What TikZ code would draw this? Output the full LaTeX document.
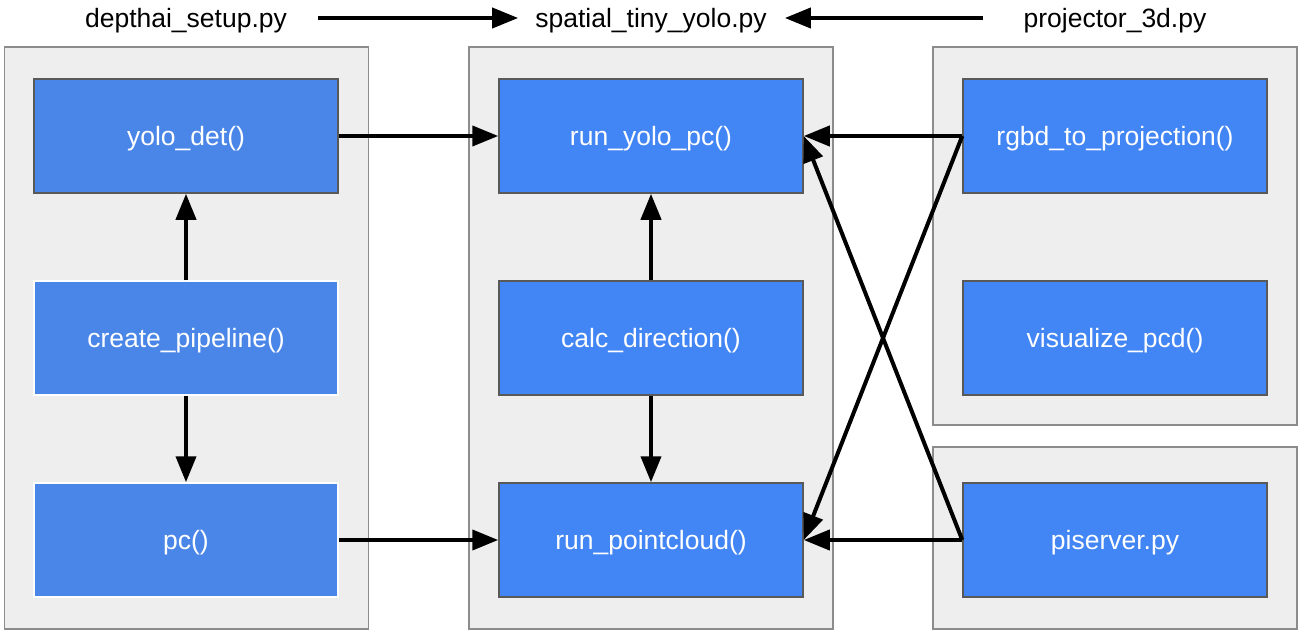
\documentclass[tikz,border=0pt]{standalone}
\usepackage{fontspec}
\setmainfont{Liberation Sans}
\usetikzlibrary{arrows.meta}
\definecolor{panelgray}{HTML}{EEEEEE}
\definecolor{panelline}{HTML}{8C8C8C}
\definecolor{setupblue}{HTML}{4A86E8}
\definecolor{funcblue}{HTML}{4285F4}
\definecolor{funcline}{HTML}{595959}

\begin{document}
\begin{tikzpicture}[x=1pt,y=-1pt,
        panel/.style={draw=panelline,fill=panelgray,line width=1.5pt,minimum width=364pt,inner sep=0pt},
        func/.style={draw=funcline,fill=funcblue,line width=1.5pt,minimum width=304pt,minimum height=114pt,
            inner sep=0pt,text depth=0pt,text=white,font=\fontsize{26.5}{30}\selectfont},
        setupfunc/.style={func,fill=setupblue,draw=white},
        title/.style={inner sep=0pt,text depth=0pt,font=\fontsize{26.5}{30}\selectfont},
        link/.style={-{Triangle[length=26pt,width=20pt]},line width=4pt}]
    \useasboundingbox (0,0) rectangle (1300,631);

    % files
    \node[title] (setup) at (186,18) {depthai\_setup.py};
    \node[title] (tiny) at (651,18) {spatial\_tiny\_yolo.py};
    \node[title] (proj) at (1115,18) {projector\_3d.py};

    % panels
    \node[panel,minimum height=582pt] (P1) at (186.5,338) {};
    \node[panel,minimum height=582pt] (P2) at (651,338) {};
    \node[panel,minimum height=378pt] (P3) at (1115,236) {};
    \node[panel,minimum height=182pt] (P4) at (1115,538) {};

    % functions
    \node[setupfunc,draw=funcline] (yolo) at (186,136) {yolo\_det()};
    \node[setupfunc] (pipe) at (186,338) {create\_pipeline()};
    \node[setupfunc] (pc) at (186,540) {pc()};
    \node[func] (runyolo) at (651,136) {run\_yolo\_pc()};
    \node[func] (calc) at (651,338) {calc\_direction()};
    \node[func] (runpc) at (651,540) {run\_pointcloud()};
    \node[func] (rgbd) at (1115,136) {rgbd\_to\_projection()};
    \node[func] (vis) at (1115,338) {visualize\_pcd()};
    \node[func] (pis) at (1115,540) {piserver.py};

    \draw[link,shorten <=31pt,shorten >=17pt] (setup.east) -- (tiny.west);
    \draw[link,shorten <=40pt,shorten >=18pt] (proj.west) -- (tiny.east);
    \draw[link] (yolo.east) -- (runyolo.west);
    \draw[link] (pc.east) -- (runpc.west);
    \draw[link] (pipe.north) -- (yolo.south);
    \draw[link] (pipe.south) -- (pc.north);
    \draw[link] (calc.north) -- (runyolo.south);
    \draw[link] (calc.south) -- (runpc.north);
    \draw[link] (rgbd.west) -- (runyolo.east);
    \draw[link] (rgbd.west) -- (runpc.east);
    \draw[link] (pis.west) -- (runpc.east);
    \draw[link] (pis.west) -- (runyolo.east);
\end{tikzpicture}
\end{document}
